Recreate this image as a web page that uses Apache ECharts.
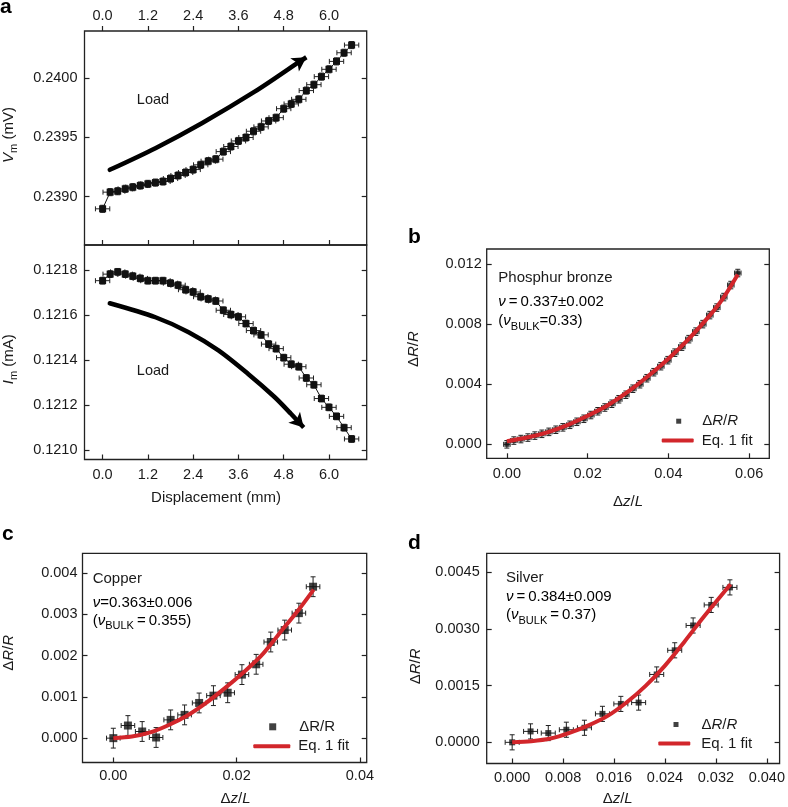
<!DOCTYPE html>
<html><head><meta charset="utf-8">
<script src="https://cdn.jsdelivr.net/npm/echarts@6/dist/echarts.min.js"></script>
<style>html,body{margin:0;padding:0;background:#fff}#c{width:788px;height:807px}</style>
</head><body><div id="c"></div>
<script>
// ---------- Panel a ----------
const dispMM = [0,0.2,0.4,0.6,0.8,1.0,1.2,1.4,1.6,1.8,2.0,2.2,2.4,2.6,2.8,3.0,3.2,3.4,3.6,3.8,4.0,4.2,4.4,4.6,4.8,5.0,5.2,5.4,5.6,5.8,6.0,6.2,6.4,6.6];
const vmValues = [0.238896,0.239037,0.239045,0.239065,0.239079,0.239093,0.239107,0.239118,0.239127,0.239152,0.239178,0.239203,0.239228,0.239268,0.239299,0.239316,0.239380,0.239423,0.239470,0.239499,0.239552,0.239589,0.239639,0.239667,0.239743,0.239783,0.239822,0.239896,0.239946,0.240014,0.240076,0.240143,0.240216,0.240281];
const imValues = [0.121752,0.121781,0.121791,0.121781,0.121772,0.121762,0.121752,0.121752,0.121752,0.121741,0.121732,0.121712,0.121702,0.121681,0.121671,0.121662,0.121621,0.121602,0.121592,0.121562,0.121531,0.121512,0.121471,0.121451,0.121411,0.121382,0.121371,0.121321,0.121291,0.121230,0.121191,0.121151,0.121101,0.121051];
const dispErr = 0.19, vmErr = 0.00003, imErr = 0.000015;
const dispTicks = [0,1.2,2.4,3.6,4.8,6.0];
const vmTicks = [0.2390,0.2395,0.2400];
const imTicks = [0.1210,0.1212,0.1214,0.1216,0.1218];
const arrowVm = [[0.19,0.239226],[1.40,0.239409],[2.63,0.239620],[4.03,0.239887],[5.08,0.240112]];
const arrowVmHead = [[5.08,0.240112],[5.40,0.240178]];
const arrowIm = [[0.19,0.121652],[1.40,0.121590],[2.28,0.121524],[3.07,0.121443],[3.85,0.121340],[4.55,0.121238],[4.95,0.121170]];
const arrowImHead = [[4.95,0.121170],[5.33,0.121102]];

// ---------- Panel b (Phosphur bronze) ----------
const bX = [0,0.00173,0.00347,0.0052,0.00693,0.00867,0.0104,0.01213,0.01387,0.0156,0.01733,0.01907,0.0208,0.02253,0.02427,0.026,0.02773,0.02947,0.0312,0.03293,0.03467,0.0364,0.03813,0.03987,0.0416,0.04333,0.04507,0.0468,0.04853,0.05027,0.052,0.05373,0.05547,0.0572];
const bY = [0,0.00025,0.00035,0.00045,0.00058,0.0007,0.00083,0.00097,0.00113,0.0013,0.0015,0.0017,0.00195,0.0022,0.00245,0.0027,0.003,0.0033,0.0037,0.004,0.0044,0.0048,0.0052,0.0056,0.0061,0.0065,0.007,0.0075,0.008,0.0086,0.0091,0.0098,0.0106,0.0114];
const bFit = [[0,0.0002],[0.005,0.00045],[0.01,0.0008],[0.015,0.00128],[0.02,0.0019],[0.025,0.0026],[0.03,0.0035],[0.035,0.00455],[0.04,0.0057],[0.045,0.007],[0.05,0.0085],[0.0535,0.0097],[0.0572,0.0113]];
const bXErr = 0.0008, bYErr = 0.00025;
const bXTicks = [0,0.02,0.04,0.06];
const bYTicks = [0,0.004,0.008,0.012];

// ---------- Panel c (Copper) ----------
const cX = [0,0.00237,0.00468,0.00694,0.0093,0.01156,0.01392,0.01624,0.01855,0.02086,0.02317,0.02554,0.0278,0.0301,0.0324];
const cY = [0,0.000306,0.000161,0.000016,0.000443,0.000564,0.000853,0.00103,0.0011,0.00154,0.00179,0.00233,0.00262,0.00303,0.00367];
const cFit = [[0,0],[0.003,0.00004],[0.006,0.00014],[0.009,0.00032],[0.012,0.00055],[0.015,0.00085],[0.018,0.0012],[0.021,0.00158],[0.024,0.002],[0.027,0.00255],[0.030,0.0031],[0.0325,0.0036]];
const cXErr = 0.0011, cYErr = 0.00024;
const cXTicks = [0,0.02,0.04];
const cYTicks = [0,0.001,0.002,0.003,0.004];

// ---------- Panel d (Silver) ----------
const dX = [0,0.00289,0.00567,0.00851,0.01135,0.01418,0.01707,0.01986,0.0227,0.02553,0.02842,0.03126,0.0342];
const dY = [0,0.000289,0.000245,0.000333,0.000385,0.000753,0.001016,0.001051,0.001795,0.002434,0.003091,0.003634,0.004098];
const dFit = [[0,0],[0.003,0.00003],[0.006,0.0001],[0.009,0.00025],[0.012,0.00045],[0.015,0.0007],[0.018,0.00106],[0.021,0.0015],[0.024,0.00203],[0.027,0.00265],[0.030,0.0033],[0.0343,0.00418]];
const dXErr = 0.0011, dYErr = 0.0002;
const dXTicks = [0,0.008,0.016,0.024,0.032,0.040];
const dYTicks = [0,0.0015,0.0030,0.0045];

// ---------- styling ----------
const FF = '"Liberation Sans", Arial, Helvetica, sans-serif';
const TXT = '#1a1a1a';
const RED = '#d2262b';
const LBL = 14.5;

function zip(xs, ys){ return xs.map((x,i)=>[x, ys[i]]); }
function errData(xs, ys, xe, ye){ return xs.map((x,i)=>[x, ys[i], xe, ye]); }

function errRender(params, api){
  const x = api.value(0), y = api.value(1), xe = api.value(2), ye = api.value(3);
  const c = api.coord([x, y]);
  const l = api.coord([x - xe, y]), r = api.coord([x + xe, y]);
  const t = api.coord([x, y + ye]), b = api.coord([x, y - ye]);
  const cap = 2.5;
  const st = {stroke:'#222', lineWidth:1, fill:null};
  return {type:'group', children:[
    {type:'line', shape:{x1:l[0],y1:c[1],x2:r[0],y2:c[1]}, style:st},
    {type:'line', shape:{x1:l[0],y1:c[1]-cap,x2:l[0],y2:c[1]+cap}, style:st},
    {type:'line', shape:{x1:r[0],y1:c[1]-cap,x2:r[0],y2:c[1]+cap}, style:st},
    {type:'line', shape:{x1:c[0],y1:t[1],x2:c[0],y2:b[1]}, style:st},
    {type:'line', shape:{x1:c[0]-cap,y1:t[1],x2:c[0]+cap,y2:t[1]}, style:st},
    {type:'line', shape:{x1:c[0]-cap,y1:b[1],x2:c[0]+cap,y2:b[1]}, style:st}
  ]};
}

const richBase = {
  i:{fontStyle:'italic', fontSize:15, fontFamily:FF, color:TXT, lineHeight:22},
  n:{fontSize:15, fontFamily:FF, color:TXT, lineHeight:22},
  s:{fontSize:11, fontFamily:FF, color:TXT, lineHeight:12, verticalAlign:'bottom'}
};

const tickStyle = {color:'#222', width:1.2};
function xAxisCfg(grid, min, max, ticks, dec, opts){
  return Object.assign({
    type:'value', gridIndex:grid, min:min, max:max, position:'bottom',
    axisLine:{show:false, onZero:false},
    axisTick:{show:true, inside:true, length:5, customValues:ticks, lineStyle:tickStyle},
    axisLabel:{show:true, customValues:ticks, margin:8, fontSize:LBL, fontFamily:FF, color:TXT, formatter:v=>v.toFixed(dec)},
    splitLine:{show:false}
  }, opts || {});
}
function yAxisCfg(grid, min, max, ticks, dec, opts){
  return Object.assign({
    type:'value', gridIndex:grid, min:min, max:max, position:'left',
    axisLine:{show:false, onZero:false},
    axisTick:{show:true, inside:true, length:5, customValues:ticks, lineStyle:tickStyle},
    axisLabel:{show:true, customValues:ticks, margin:7, fontSize:LBL, fontFamily:FF, color:TXT, formatter:v=>v.toFixed(dec)},
    splitLine:{show:false}
  }, opts || {});
}
function rightAxis(grid, min, max, ticks){
  return {type:'value', gridIndex:grid, min:min, max:max, position:'right',
    axisLine:{show:false, onZero:false}, axisLabel:{show:false}, splitLine:{show:false},
    axisTick:{show:true, inside:true, length:5, customValues:ticks, lineStyle:tickStyle}};
}

const gridStyle = {show:true, borderColor:'#222', borderWidth:1.3, backgroundColor:'transparent', containLabel:false};

const aXMin = -0.48, aXMax = 7.0;
const vmMin = 0.23859, vmMax = 0.2404;
const imMin = 0.12096, imMax = 0.12191;

const option = {
  animation:false,
  backgroundColor:'#fff',
  textStyle:{fontFamily:FF},
  grid:[
    Object.assign({left:82, top:31, width:284.7, height:214}, gridStyle),
    Object.assign({left:82, top:245, width:284.7, height:214.5}, gridStyle),
    Object.assign({left:486.7, top:249, width:282.6, height:209.3}, gridStyle),
    Object.assign({left:81, top:553.3, width:285.7, height:210}, gridStyle),
    Object.assign({left:486.7, top:553.3, width:297.6, height:211.7}, gridStyle)
  ],
  xAxis:[
    xAxisCfg(0, aXMin, aXMax, dispTicks, 1, {position:'top',
      axisTick:{show:true, inside:false, length:5, customValues:dispTicks, lineStyle:tickStyle}}),
    xAxisCfg(0, aXMin, aXMax, dispTicks, 1, {axisLabel:{show:false}}),
    xAxisCfg(1, aXMin, aXMax, dispTicks, 1, {name:'Displacement (mm)', nameLocation:'middle', nameGap:31,
      nameTextStyle:{fontSize:15, fontFamily:FF, color:TXT, padding:[0,19,0,0]}}),
    xAxisCfg(2, -0.005, 0.065, bXTicks, 2, {name:'{n|Δ}{i|z}{n|/}{i|L}', nameLocation:'middle', nameGap:33,
      nameTextStyle:{rich:richBase}}),
    xAxisCfg(3, -0.005, 0.0411, cXTicks, 2, {name:'{n|Δ}{i|z}{n|/}{i|L}', nameLocation:'middle', nameGap:25,
      nameTextStyle:{rich:richBase, padding:[0,0,0,22]}, axisLabel:{show:true, customValues:cXTicks, margin:6, fontSize:LBL, fontFamily:FF, color:TXT, formatter:v=>v.toFixed(2)}}),
    xAxisCfg(4, -0.004, 0.042, dXTicks, 3, {name:'{n|Δ}{i|z}{n|/}{i|L}', nameLocation:'middle', nameGap:24,
      nameTextStyle:{rich:richBase, padding:[0,31,0,0]}, axisLabel:{show:true, customValues:dXTicks, margin:6.5, fontSize:LBL, fontFamily:FF, color:TXT, formatter:v=>v.toFixed(3)}})
  ],
  yAxis:[
    yAxisCfg(0, vmMin, vmMax, vmTicks, 4, {name:'{i|V}{s|m}{n| (mV)}', nameLocation:'middle', nameRotate:90, nameGap:65,
      nameTextStyle:{rich:richBase, padding:[0,0,0,6]}}),
    rightAxis(0, vmMin, vmMax, vmTicks),
    yAxisCfg(1, imMin, imMax, imTicks, 4, {name:'{i|I}{s|m}{n| (mA)}', nameLocation:'middle', nameRotate:90, nameGap:65,
      nameTextStyle:{rich:richBase, padding:[0,14,0,0]}}),
    rightAxis(1, imMin, imMax, imTicks),
    yAxisCfg(2, -0.00093, 0.013, bYTicks, 3, {name:'{n|Δ}{i|R}{n|/}{i|R}', nameLocation:'middle', nameRotate:90, nameGap:62,
      nameTextStyle:{rich:richBase, padding:[0,0,0,9]}, axisLabel:{show:true, customValues:bYTicks, margin:5, fontSize:LBL, fontFamily:FF, color:TXT, formatter:v=>v.toFixed(3)}}),
    rightAxis(2, -0.00093, 0.013, bYTicks),
    yAxisCfg(3, -0.00059, 0.00448, cYTicks, 3, {name:'{n|Δ}{i|R}{n|/}{i|R}', nameLocation:'middle', nameRotate:90, nameGap:63,
      nameTextStyle:{rich:richBase, padding:[0,0,0,10]}, axisLabel:{show:true, customValues:cYTicks, margin:5, fontSize:LBL, fontFamily:FF, color:TXT, formatter:v=>v.toFixed(3)}}),
    rightAxis(3, -0.00059, 0.00448, cYTicks),
    yAxisCfg(4, -0.00056, 0.0050, dYTicks, 4, {name:'{n|Δ}{i|R}{n|/}{i|R}', nameLocation:'middle', nameRotate:90, nameGap:60,
      nameTextStyle:{rich:richBase, padding:[0,16,0,0]}}),
    rightAxis(4, -0.00056, 0.0050, dYTicks)
  ],
  legend:[
    {data:['bData'], left:676.2, top:413.7, padding:0, itemWidth:5, itemHeight:5, icon:'rect', selectedMode:false,
      formatter:()=>'{n|Δ}{i|R}{n|/}{i|R}', textStyle:{padding:[0,0,0,16], rich:richBase}},
    {data:['bFit'], left:661.7, top:433, padding:0, itemWidth:32, itemHeight:4, icon:'roundRect', selectedMode:false,
      formatter:()=>'Eq. 1 fit', textStyle:{fontSize:15, fontFamily:FF, color:TXT, padding:[0,0,0,3]}},
    {data:['cData'], left:269.2, top:719.3, padding:0, itemWidth:7, itemHeight:7, icon:'rect', selectedMode:false,
      formatter:()=>'ΔR/R', textStyle:{fontSize:15, fontFamily:FF, color:TXT, padding:[0,0,0,18]}},
    {data:['cFit'], left:253.3, top:738.7, padding:0, itemWidth:37, itemHeight:4, icon:'roundRect', selectedMode:false,
      formatter:()=>'Eq. 1 fit', textStyle:{fontSize:15, fontFamily:FF, color:TXT, padding:[0,0,0,3]}},
    {data:['dData'], left:673.5, top:717, padding:0, itemWidth:5, itemHeight:5, icon:'rect', selectedMode:false,
      formatter:()=>'{n|Δ}{i|R}{n|/}{i|R}', textStyle:{padding:[0,0,0,18], rich:richBase}},
    {data:['dFit'], left:658.3, top:736, padding:0, itemWidth:32, itemHeight:4, icon:'roundRect', selectedMode:false,
      formatter:()=>'Eq. 1 fit', textStyle:{fontSize:15, fontFamily:FF, color:TXT, padding:[0,0,0,6]}}
  ],
  series:[
    // panel a top
    {type:'custom', xAxisIndex:0, yAxisIndex:0, renderItem:errRender, data:errData(dispMM, vmValues, dispErr, vmErr), encode:{x:0,y:1}, z:2},
    {type:'line', name:'vm', xAxisIndex:0, yAxisIndex:0, data:zip(dispMM, vmValues), symbol:'rect', symbolSize:7,
      itemStyle:{color:'#111'}, lineStyle:{color:'#111', width:1}, z:3},
    {type:'line', name:'arrowVm', xAxisIndex:0, yAxisIndex:0, data:arrowVm, smooth:0.3, symbol:'none',
      lineStyle:{color:'#000', width:4.5, cap:'round'}, z:4,
      markLine:{silent:true, symbol:['none','arrow'], symbolSize:[12,14], label:{show:false},
        lineStyle:{color:'#000', width:4.5, type:'solid'},
        data:[[{coord:arrowVmHead[0]},{coord:arrowVmHead[1]}]]}},
    // panel a bottom
    {type:'custom', xAxisIndex:2, yAxisIndex:2, renderItem:errRender, data:errData(dispMM, imValues, dispErr, imErr), encode:{x:0,y:1}, z:2},
    {type:'line', name:'im', xAxisIndex:2, yAxisIndex:2, data:zip(dispMM, imValues), symbol:'rect', symbolSize:7,
      itemStyle:{color:'#111'}, lineStyle:{color:'#111', width:1}, z:3},
    {type:'line', name:'arrowIm', xAxisIndex:2, yAxisIndex:2, data:arrowIm, smooth:0.3, symbol:'none',
      lineStyle:{color:'#000', width:4.5, cap:'round'}, z:4,
      markLine:{silent:true, symbol:['none','arrow'], symbolSize:[12,14], label:{show:false},
        lineStyle:{color:'#000', width:4.5, type:'solid'},
        data:[[{coord:arrowImHead[0]},{coord:arrowImHead[1]}]]}},
    // panel b
    {type:'custom', xAxisIndex:3, yAxisIndex:4, renderItem:errRender, data:errData(bX, bY, bXErr, bYErr), encode:{x:0,y:1}, z:2},
    {type:'scatter', name:'bData', xAxisIndex:3, yAxisIndex:4, data:zip(bX, bY), symbol:'rect', symbolSize:5, itemStyle:{color:'#111'}, z:3},
    {type:'line', name:'bFit', xAxisIndex:3, yAxisIndex:4, data:bFit, smooth:0.3, symbol:'none', color:RED,
      itemStyle:{color:RED}, lineStyle:{color:RED, width:4}, z:4},
    // panel c
    {type:'custom', xAxisIndex:4, yAxisIndex:6, renderItem:errRender, data:errData(cX, cY, cXErr, cYErr), encode:{x:0,y:1}, z:2},
    {type:'scatter', name:'cData', xAxisIndex:4, yAxisIndex:6, data:zip(cX, cY), symbol:'rect', symbolSize:8, itemStyle:{color:'#111'}, z:3},
    {type:'line', name:'cFit', xAxisIndex:4, yAxisIndex:6, data:cFit, smooth:0.3, symbol:'none', color:RED,
      itemStyle:{color:RED}, lineStyle:{color:RED, width:4}, z:4},
    // panel d
    {type:'custom', xAxisIndex:5, yAxisIndex:8, renderItem:errRender, data:errData(dX, dY, dXErr, dYErr), encode:{x:0,y:1}, z:2},
    {type:'scatter', name:'dData', xAxisIndex:5, yAxisIndex:8, data:zip(dX, dY), symbol:'rect', symbolSize:6, itemStyle:{color:'#111'}, z:3},
    {type:'line', name:'dFit', xAxisIndex:5, yAxisIndex:8, data:dFit, smooth:0.3, symbol:'none', color:RED,
      itemStyle:{color:RED}, lineStyle:{color:RED, width:4}, z:4}
  ],
  graphic:[
    {type:'text', left:0, top:-3, style:{text:'a', fontSize:21, fontWeight:'bold', fontFamily:FF, fill:'#000'}},
    {type:'text', left:408, top:227, style:{text:'b', fontSize:21, fontWeight:'bold', fontFamily:FF, fill:'#000'}},
    {type:'text', left:2, top:524, style:{text:'c', fontSize:21, fontWeight:'bold', fontFamily:FF, fill:'#000'}},
    {type:'text', left:408, top:533, style:{text:'d', fontSize:21, fontWeight:'bold', fontFamily:FF, fill:'#000'}},
    {type:'text', x:153, y:100, style:{text:'Load', fontSize:LBL, fontFamily:FF, fill:TXT, align:'center', verticalAlign:'middle'}},
    {type:'text', x:153, y:371, style:{text:'Load', fontSize:LBL, fontFamily:FF, fill:TXT, align:'center', verticalAlign:'middle'}},
    // b annotations
    {type:'text', x:498.3, y:278.3, style:{text:'Phosphur bronze', fontSize:15, fontFamily:FF, fill:TXT, verticalAlign:'middle'}},
    {type:'text', x:498.3, y:301.7, style:{text:'{i|ν}{n|\u2009=\u20090.337±0.002}', rich:richBase, verticalAlign:'middle'}},
    {type:'text', x:498.3, y:321, style:{text:'{n|(}{i|ν}{s|BULK}{n|=0.33)}', rich:richBase, verticalAlign:'middle'}},
    // c annotations
    {type:'text', x:92.7, y:579.3, style:{text:'Copper', fontSize:15, fontFamily:FF, fill:TXT, verticalAlign:'middle'}},
    {type:'text', x:92.7, y:602.7, style:{text:'{i|ν}{n|=0.363±0.006}', rich:richBase, verticalAlign:'middle'}},
    {type:'text', x:92.7, y:620.5, style:{text:'{n|(}{i|ν}{s|BULK}{n|\u2009=\u20090.355)}', rich:richBase, verticalAlign:'middle'}},
    // d annotations
    {type:'text', x:506, y:578.3, style:{text:'Silver', fontSize:15, fontFamily:FF, fill:TXT, verticalAlign:'middle'}},
    {type:'text', x:506, y:596.5, style:{text:'{i|ν}{n|\u2009=\u20090.384±0.009}', rich:richBase, verticalAlign:'middle'}},
    {type:'text', x:506, y:615, style:{text:'{n|(}{i|ν}{s|BULK}{n|\u2009=\u20090.37)}', rich:richBase, verticalAlign:'middle'}}
  ]
};

const chart = echarts.init(document.getElementById('c'), null, {renderer:'canvas', width:788, height:807});
chart.setOption(option);
</script>
</body></html>
